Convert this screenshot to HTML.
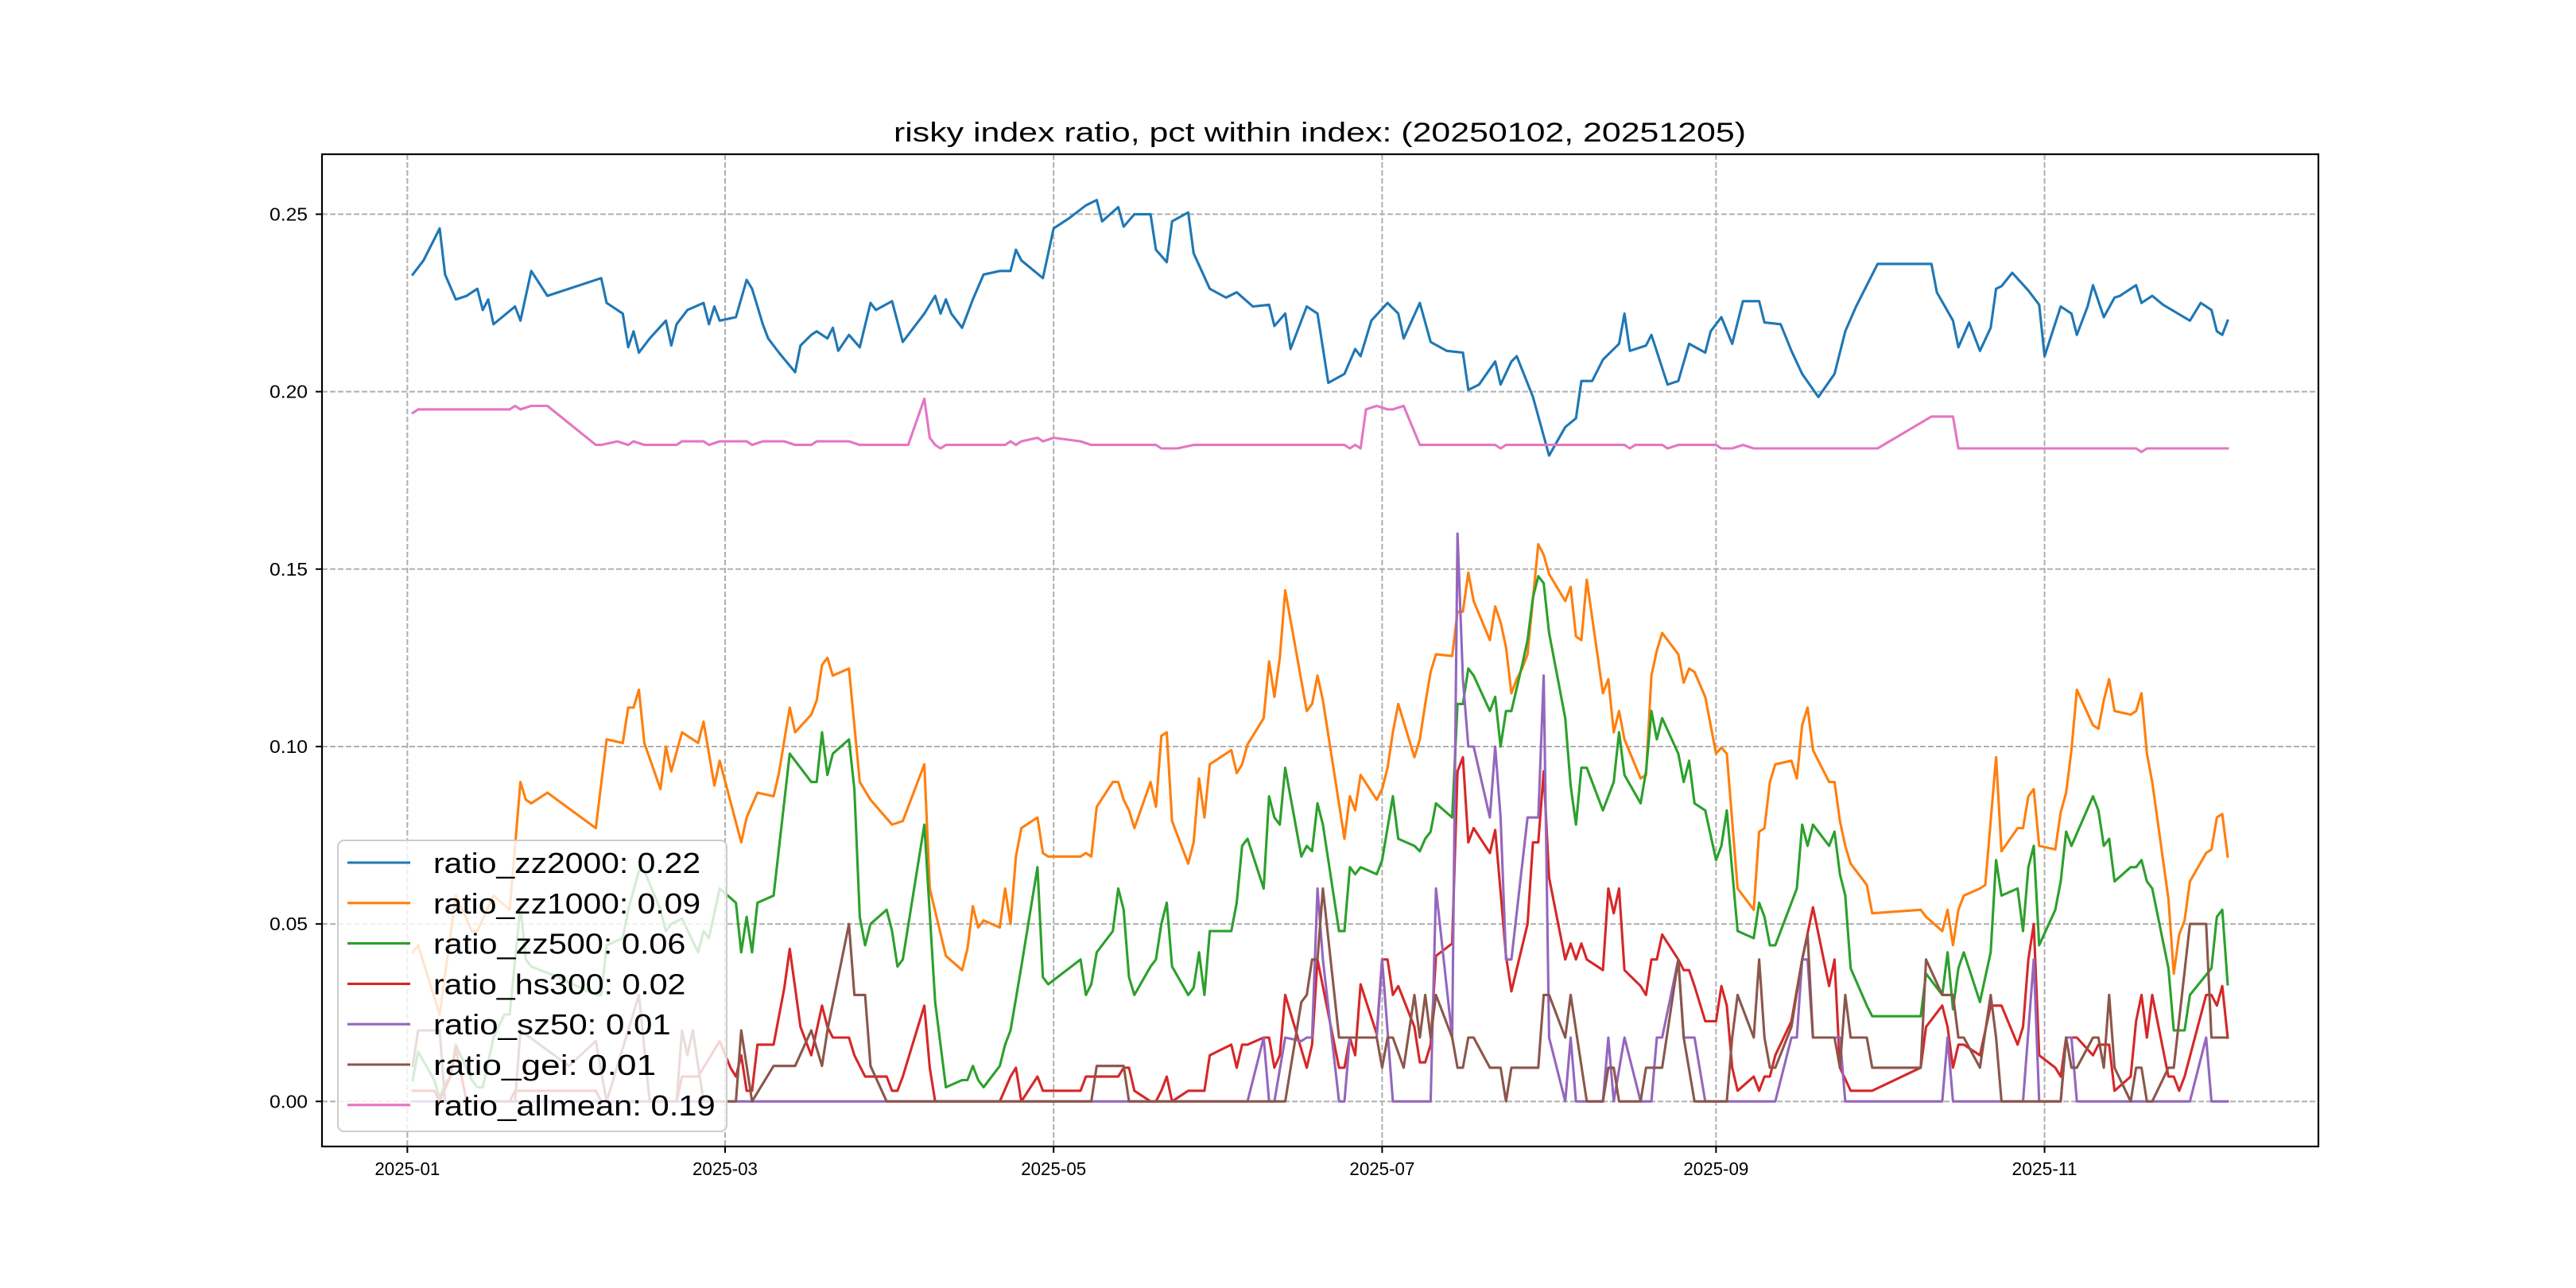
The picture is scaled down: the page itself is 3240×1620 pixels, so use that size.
<!DOCTYPE html>
<html><head><meta charset="utf-8"><title>risky index ratio</title>
<style>html,body{margin:0;padding:0;background:#fff}svg{display:block}</style></head>
<body>
<svg id="chart" xmlns="http://www.w3.org/2000/svg" width="3240" height="1620" viewBox="0 0 3240 1620">
<rect x="0" y="0" width="3240" height="1620" fill="#fff"/>
<text x="1660" y="178" text-anchor="middle" font-family="Liberation Sans, WenQuanYi Zen Hei, sans-serif" font-size="34" textLength="1072" lengthAdjust="spacingAndGlyphs" fill="#000">risky index ratio, pct within index: (20250102, 20251205)</text>
<g id="grid"></g>
<g id="series"></g>
<rect x="405" y="194" width="2511" height="1248" fill="none" stroke="#000" stroke-width="2.2"/>
<g id="ticks"></g>
<g id="legend"></g>
</svg>
<script>
var xTickLabels = ["2025-01","2025-03","2025-05","2025-07","2025-09","2025-11"];
var xTickDays = [0,59,120,181,243,304];
var yTickValues = [0,0.05,0.10,0.15,0.20,0.25];
var yTickLabels = ["0.00","0.05","0.10","0.15","0.20","0.25"];
var seriesNames = ["ratio_zz2000","ratio_zz1000","ratio_zz500","ratio_hs300","ratio_sz50","ratio_gei","ratio_allmean"];
var seriesMeans = ["0.22","0.09","0.06","0.02","0.01","0.01","0.19"];
var seriesColors = ["#1f77b4","#ff7f0e","#2ca02c","#d62728","#9467bd","#8c564b","#e377c2"];

var zz2000Day = [1,3,6,7,9,11,13,14,15,16,20,21,23,26,36,37,40,41,42,43,45,48,49,50,52,55,56,57,58,61,63,64,65,66,67,69,72,73,75,76,78,79,80,82,84,86,87,90,92,96,98,99,100,101,103,105,107,110,112,113,114,118,120,123,126,128,129,132,133,135,138,139,141,142,145,146,149,152,154,157,160,161,163,164,167,169,171,174,176,177,179,182,184,185,188,190,193,196,197,199,202,203,205,206,209,212,215,217,218,220,222,225,226,227,230,231,234,236,238,241,242,244,246,248,251,252,255,257,259,262,265,267,269,273,283,284,287,288,290,292,294,295,296,298,301,303,304,307,309,310,312,313,315,317,318,321,322,324,326,331,333,335,336,337,338];
var zz2000Val = [.233,.237,.246,.233,.226,.227,.229,.223,.226,.219,.224,.220,.234,.227,.232,.225,.222,.2125,.217,.211,.215,.220,.213,.219,.223,.225,.219,.224,.220,.221,.2315,.229,.224,.219,.215,.211,.2055,.213,.216,.217,.215,.218,.2115,.216,.2125,.225,.223,.2255,.214,.222,.227,.222,.226,.222,.218,.226,.233,.234,.234,.240,.237,.232,.246,.249,.2525,.254,.248,.252,.2465,.250,.250,.240,.2365,.248,.2505,.239,.229,.2265,.228,.224,.2245,.2185,.222,.212,.224,.222,.2025,.205,.212,.210,.220,.225,.222,.215,.225,.214,.2115,.211,.2005,.202,.2085,.202,.2085,.210,.1985,.182,.190,.1925,.203,.203,.209,.2135,.222,.2115,.213,.216,.202,.203,.2135,.211,.217,.221,.2135,.2255,.2255,.2195,.219,.2115,.205,.1985,.205,.217,.224,.236,.236,.228,.220,.2125,.2195,.2115,.218,.229,.2297,.2335,.2285,.2245,.210,.224,.222,.216,.224,.230,.221,.2265,.227,.230,.225,.227,.2245,.220,.225,.223,.217,.216,.220];

var zz1000Day = [1,2,6,9,12,13,16,19,21,22,23,26,35,37,40,41,42,43,44,47,48,49,51,54,55,57,58,62,63,65,68,69,71,72,75,76,77,78,79,82,84,86,90,92,96,97,100,103,104,105,106,107,110,111,112,113,114,117,118,119,125,126,127,128,131,132,133,134,135,138,139,140,141,142,145,146,147,148,149,153,154,155,156,159,160,161,162,163,167,168,169,170,174,175,176,177,180,181,182,183,184,187,188,189,190,191,194,195,196,197,198,201,202,203,204,205,206,207,208,210,211,212,215,216,217,218,219,222,223,224,225,226,229,230,231,232,233,236,237,238,239,241,243,244,245,247,250,251,252,253,254,257,258,259,260,261,264,265,266,267,268,271,272,281,282,285,286,287,288,289,292,293,295,296,299,300,301,302,303,306,307,308,309,310,313,314,315,316,317,320,321,322,323,324,327,328,329,330,331,334,335,336,337,338];
var zz1000Val = [.042,.044,.0245,.058,.048,.048,.058,.054,.090,.085,.084,.087,.077,.102,.101,.111,.111,.116,.101,.088,.100,.093,.104,.101,.107,.089,.096,.073,.080,.087,.086,.0925,.111,.104,.109,.113,.123,.125,.120,.122,.090,.085,.078,.079,.095,.060,.041,.037,.043,.055,.049,.051,.049,.060,.050,.069,.077,.080,.070,.069,.069,.070,.069,.083,.090,.090,.085,.082,.077,.090,.083,.103,.104,.079,.067,.073,.091,.080,.095,.099,.0925,.095,.1006,.108,.124,.114,.125,.144,.110,.112,.120,.113,.074,.086,.082,.092,.085,.088,.094,.104,.112,.097,.102,.112,.121,.126,.1255,.138,.138,.149,.141,.130,.1395,.135,.128,.115,.119,.122,.126,.157,.154,.1486,.141,.145,.131,.130,.147,.115,.119,.104,.110,.102,.091,.092,.120,.127,.132,.126,.118,.122,.121,.114,.098,.0997,.098,.060,.054,.076,.077,.090,.095,.096,.091,.106,.111,.099,.090,.090,.079,.072,.067,.061,.053,.054,.052,.048,.054,.044,.054,.058,.060,.061,.097,.0705,.077,.077,.086,.088,.072,.071,.0815,.087,.099,.116,.106,.105,.113,.119,.110,.109,.110,.115,.098,.090,.057,.036,.047,.051,.062,.070,.071,.080,.081,.069];

var zz500Day = [1,2,5,6,7,8,9,12,13,14,16,18,19,21,22,23,28,35,36,37,40,41,43,44,47,48,49,51,54,55,56,58,61,62,63,64,65,68,71,75,76,77,78,79,82,83,84,85,86,89,90,91,92,96,98,100,103,104,105,106,107,110,111,112,114,117,118,119,125,126,127,128,131,132,133,134,135,138,139,140,141,142,145,146,147,148,149,153,154,155,156,159,160,161,162,163,166,167,168,169,170,173,174,175,176,177,180,181,183,184,187,188,189,190,191,194,195,196,197,198,201,202,203,204,205,207,208,209,210,211,212,215,216,217,218,219,222,224,225,226,229,230,231,232,233,236,237,238,239,241,243,244,245,247,250,251,252,253,254,258,259,260,261,264,265,266,267,268,271,272,281,282,285,286,287,288,289,292,293,294,295,296,299,300,301,302,303,306,307,308,309,313,314,315,316,317,320,321,322,323,324,327,328,330,331,335,336,337,338];
var zz500Val = [.006,.014,.006,.001,.005,.007,.016,.006,.004,.004,.018,.0245,.0245,.055,.040,.038,.035,.030,.030,.044,.046,.054,.065,.065,.054,.048,.050,.0515,.042,.048,.046,.060,.056,.042,.052,.042,.056,.058,.098,.090,.090,.104,.092,.098,.102,.088,.052,.044,.050,.054,.048,.038,.040,.078,.028,.004,.006,.006,.010,.006,.004,.010,.016,.020,.038,.066,.035,.033,.040,.030,.033,.042,.048,.060,.054,.035,.030,.038,.040,.050,.056,.038,.030,.032,.042,.030,.048,.048,.056,.072,.074,.060,.086,.080,.078,.094,.069,.072,.0705,.084,.078,.048,.048,.066,.064,.066,.064,.068,.086,.074,.072,.0705,.074,.076,.084,.080,.112,.112,.122,.120,.110,.114,.100,.110,.110,.123,.130,.142,.148,.146,.132,.108,.089,.078,.094,.094,.082,.090,.104,.092,.084,.093,.110,.102,.108,.098,.090,.096,.084,.082,.068,.072,.082,.048,.046,.056,.052,.044,.044,.060,.078,.072,.078,.072,.076,.064,.058,.0375,.027,.024,.024,.036,.030,.042,.026,.0375,.042,.028,.035,.042,.068,.058,.060,.048,.066,.072,.044,.054,.062,.076,.072,.086,.082,.072,.074,.062,.066,.066,.068,.062,.060,.0375,.020,.020,.030,.0375,.052,.054,.033];

var hs300Day = [1,5,6,8,9,11,19,20,35,36,50,51,54,58,60,61,62,63,64,65,68,70,71,72,73,75,77,78,79,82,83,85,88,89,90,91,92,96,97,98,110,112,113,114,117,118,125,126,132,133,134,135,138,139,140,141,142,145,148,149,153,154,155,156,159,160,161,162,163,167,168,169,173,174,175,176,177,180,181,182,183,184,187,188,189,190,191,194,195,196,197,198,201,202,203,204,205,208,209,210,211,212,215,216,217,218,219,222,223,224,225,226,229,230,231,232,233,236,237,238,239,241,243,244,245,246,247,250,251,252,253,254,257,259,261,264,265,266,268,272,281,282,285,286,287,288,289,292,294,296,299,300,301,302,303,306,307,308,310,313,314,316,317,320,321,322,323,324,327,328,329,330,334,335,336,337,338];
var hs300Val = [.003,.003,0,.007,.015,0,0,.003,.003,0,0,.007,.007,.017,.0095,.007,.013,.003,.003,.016,.016,.032,.043,.032,.021,.013,.027,.021,.018,.018,.013,.007,.007,.007,.003,.003,.007,.027,.0095,0,0,.007,.0095,0,.007,.003,.003,.007,.007,.0095,.0095,.003,0,0,.003,.007,0,.003,.003,.013,.016,.0095,.016,.016,.018,.018,.0095,.013,.030,.0095,.016,.040,.0095,.0095,.018,.013,.033,.019,.040,.040,.030,.0325,.021,.011,.011,.016,.041,.0445,.093,.097,.073,.077,.070,.0765,.059,.041,.031,.050,.073,.073,.093,.063,.040,.0445,.040,.0445,.040,.037,.060,.053,.060,.037,.0325,.030,.040,.040,.047,.040,.037,.037,.0325,.0226,.0226,.0325,.027,.0095,.003,.007,.003,.007,.007,.013,.0226,.040,.0547,.0325,.040,.0095,.003,.003,.0095,.021,.027,.021,.0095,.016,.016,.013,.027,.027,.016,.021,.040,.050,.013,.0095,.007,.018,.018,.013,.016,.016,.003,.007,.0226,.030,.018,.030,.007,.007,.003,.007,.030,.030,.027,.0325,.018];

var sz50Day = [1,156,159,160,161,163,166,167,168,169,170,173,174,175,180,181,183,190,191,194,195,196,197,198,201,202,203,204,205,208,210,211,212,215,216,217,222,223,224,226,229,231,232,233,236,237,239,241,254,257,258,259,260,261,265,266,267,285,286,287,300,302,303,307,308,309,310,331,334,335,338];
var sz50Val = [0,0,.018,0,0,.018,.017,.018,.018,.060,.040,0,0,.018,.018,.040,0,0,.060,.018,.160,.119,.100,.100,.080,.100,.080,.040,.040,.080,.080,.120,.018,0,.018,0,0,.018,0,.018,0,0,.018,.018,.040,.018,.018,0,0,.018,.018,.040,.040,.018,.018,.018,0,0,.018,0,0,.040,0,0,.018,.018,0,0,.018,0,0];

var geiDay = [1,2,6,7,20,21,30,35,37,43,45,50,51,52,53,55,61,62,63,64,68,72,75,77,78,82,83,85,86,89,127,128,133,134,163,166,167,168,169,170,173,180,181,182,183,185,187,188,189,190,191,194,195,196,197,198,201,203,204,205,210,211,212,215,216,219,222,223,224,225,229,230,233,236,237,239,245,246,247,250,251,252,253,254,257,259,260,261,265,266,267,268,271,272,281,282,285,287,288,289,292,294,295,296,307,308,309,310,313,314,315,316,317,320,321,322,323,324,327,328,331,334,335,338];
var geiVal = [.010,.020,.020,0,0,.020,.010,.017,0,.030,0,0,.020,.013,.020,0,0,.020,.010,0,.010,.010,.020,.010,.020,.050,.030,.030,.010,0,0,.010,.010,0,0,.028,.030,.040,.040,.060,.018,.018,.0095,.018,.018,.0095,.030,.018,.030,.018,.030,.018,.0095,.0095,.018,.018,.0095,.0095,0,.0095,.0095,.030,.030,.018,.030,0,0,.0095,.0095,0,0,.0095,.0095,.040,.018,0,0,.018,.030,.018,.040,.018,.0095,.0095,.021,.040,.047,.018,.018,.0095,.030,.018,.018,.0095,.0095,.040,.030,.030,.018,.018,.0095,.030,.018,0,0,.018,.0095,.0095,.018,.018,.0095,.030,.0095,0,.0095,.0095,0,0,.0095,.0095,.050,.050,.018,.018];

var allmeanDay = [1,2,19,20,21,23,26,35,36,39,41,42,44,50,51,55,56,58,63,64,66,70,72,75,76,82,84,93,96,97,98,99,100,111,112,113,114,117,118,120,125,127,139,140,143,146,174,175,176,177,178,180,182,183,185,188,202,203,204,226,227,228,233,234,236,243,244,246,248,250,273,283,287,288,321,322,323,338];
var allmeanVal = [.194,.195,.195,.196,.195,.196,.196,.185,.185,.186,.185,.186,.185,.185,.186,.186,.185,.186,.186,.185,.186,.186,.185,.185,.186,.186,.185,.185,.198,.187,.185,.184,.185,.185,.186,.185,.186,.187,.186,.187,.186,.185,.185,.184,.184,.185,.185,.184,.185,.184,.195,.196,.195,.195,.196,.185,.185,.184,.185,.185,.184,.185,.185,.184,.185,.185,.184,.184,.185,.184,.184,.193,.193,.184,.184,.183,.184,.184];

var NS = "http://www.w3.org/2000/svg";
var PL = 405, PR = 2916, PT = 194, PB = 1442;
var XMIN = -15.85, XMAX = 354.85, YMIN = -0.0127, YMAX = 0.2669;
function xs(d){ return PL + (d - XMIN) / (XMAX - XMIN) * (PR - PL); }
function ys(v){ return PB - (v - YMIN) / (YMAX - YMIN) * (PB - PT); }
function mk(tag, attrs, parent){
  var e = document.createElementNS(NS, tag);
  for (var k in attrs) e.setAttribute(k, attrs[k]);
  parent.appendChild(e);
  return e;
}
var grid = document.getElementById("grid");
var ticks = document.getElementById("ticks");
var FONT = "Liberation Sans, WenQuanYi Zen Hei, sans-serif";

for (var i = 0; i < xTickDays.length; i++) {
  var x = xs(xTickDays[i]);
  var gl = mk("line", {x1:x, y1:PT, x2:x, y2:PB, stroke:"#b0b0b0", "stroke-width":2, "stroke-dasharray":"7,3"}, grid);
  
  
  var tk = mk("line", {x1:x, y1:PB, x2:x, y2:PB+8, stroke:"#000", "stroke-width":2}, ticks);
  
  
  var tl = mk("text", {x:x, y:PB+36, "text-anchor":"middle", "font-family":FONT, "font-size":23, textLength:82, lengthAdjust:"spacingAndGlyphs", fill:"#000"}, ticks);
  tl.textContent = xTickLabels[i];
  
  
}
for (var j = 0; j < yTickValues.length; j++) {
  var y = ys(yTickValues[j]);
  var gy = mk("line", {x1:PL, y1:y, x2:PR, y2:y, stroke:"#b0b0b0", "stroke-width":2, "stroke-dasharray":"7,3"}, grid);
  
  
  var ty = mk("line", {x1:PL-8, y1:y, x2:PL, y2:y, stroke:"#000", "stroke-width":2}, ticks);
  
  
  var yl = mk("text", {x:PL-18, y:y+8, "text-anchor":"end", "font-family":FONT, "font-size":23, textLength:48, lengthAdjust:"spacingAndGlyphs", fill:"#000"}, ticks);
  yl.textContent = yTickLabels[j];
  
  
}

var allDays = [zz2000Day, zz1000Day, zz500Day, hs300Day, sz50Day, geiDay, allmeanDay];
var allVals = [zz2000Val, zz1000Val, zz500Val, hs300Val, sz50Val, geiVal, allmeanVal];
var seriesG = document.getElementById("series");
for (var s = 0; s < allDays.length; s++) {
  var pts = [];
  for (var k = 0; k < allDays[s].length; k++) pts.push(xs(allDays[s][k]).toFixed(1) + "," + ys(allVals[s][k]).toFixed(1));
  var pl = mk("polyline", {points:pts.join(" "), fill:"none", stroke:seriesColors[s], "stroke-width":3.1, "stroke-linejoin":"round", "stroke-linecap":"square"}, seriesG);
  
  
}

var lg = document.getElementById("legend");
var box = mk("rect", {x:425, y:1057, width:489, height:366, rx:8, fill:"#fff", "fill-opacity":0.8, stroke:"#cccccc", "stroke-width":2}, lg);


for (var m = 0; m < seriesNames.length; m++) {
  var cy = 1085 + m * 50.8;
  var label = seriesNames[m] + ": " + seriesMeans[m];
  var h = mk("line", {x1:437, y1:cy, x2:516, y2:cy, stroke:seriesColors[m], "stroke-width":3.1}, lg);
  
  
  var t = mk("text", {x:545, y:cy+13, "font-family":FONT, "font-size":36, textLength:(label.length*18.67).toFixed(1), lengthAdjust:"spacingAndGlyphs", fill:"#000"}, lg);
  t.textContent = label;
  
  
}
</script>
</body></html>
